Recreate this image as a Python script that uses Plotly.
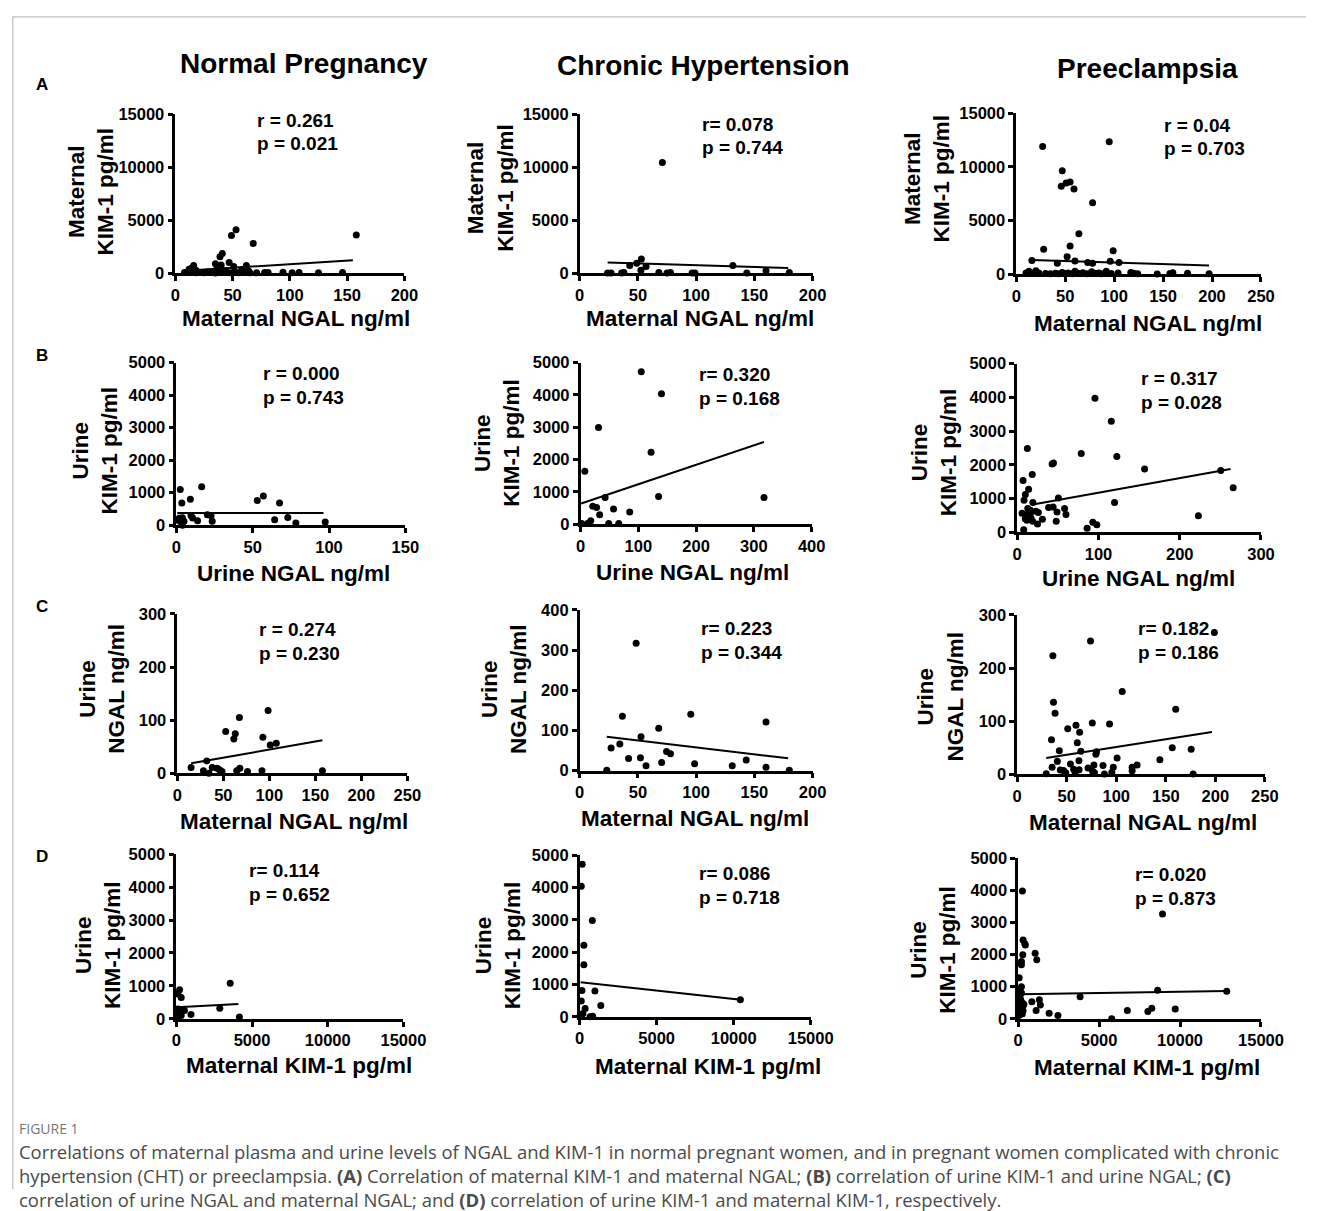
import plotly.graph_objects as go

W, H = 1329, 1211

# ---------------- data ----------------
# Row A: maternal NGAL (x) vs maternal KIM-1 (y)
a1_x = [53, 49, 68, 158, 41, 39, 47, 35, 40, 16, 14, 62, 51, 12, 18, 36, 44, 58, 64,
        8, 12, 15, 18, 22, 25, 28, 31, 35, 38, 42, 48, 52, 55, 62, 65, 71, 78, 81, 94, 102, 108, 125, 146]
a1_y = [4100, 3550, 2800, 3600, 1850, 1550, 1000, 870, 770, 700, 460, 710, 620, 350, 250, 300, 200, 300, 180,
        50, 80, 120, 30, 60, 20, 90, 40, 10, 120, 50, 30, 100, 20, 60, 30, 20, 40, 60, 80, 30, 50, 20, 60]
a1_fit_x = [8, 155]
a1_fit_y = [215, 1205]

a2_x = [71, 53, 49, 43, 57, 52.6, 131.5, 24, 27, 36, 38, 68, 75, 78, 96.5, 99, 143.5, 160, 180]
a2_y = [10450, 1330, 930, 710, 620, 250, 710, 0, 0, 0, 60, 60, 0, 60, 0, 0, 0, 220, 60]
a2_fit_x = [24, 179]
a2_fit_y = [990, 464]

a3_x = [27, 95, 47, 46, 51, 55, 59, 78, 64, 55, 28, 99, 52, 42, 16, 60, 73, 78, 96, 105,
        10, 13, 16, 20, 23, 30, 35, 40, 43, 47, 50, 53, 57, 60, 63, 68, 72, 77, 80, 84, 87, 92, 97,
        104, 117, 120, 124, 144, 157, 160, 175, 197]
a3_y = [11900, 12350, 9650, 8200, 8500, 8600, 7950, 6650, 3750, 2620, 2320, 2170, 1620, 1000, 1250, 1220, 1070, 1000, 1190, 1070,
        100, 250, 50, 300, 100, 50, 20, 80, 30, 150, 40, 100, 20, 250, 60, 120, 30, 200, 60, 100, 20, 250, 50,
        100, 150, 60, 30, 0, 50, 120, 60, 20]
a3_fit_x = [16, 197]
a3_fit_y = [1314, 794]

# Row B: urine NGAL (x) vs urine KIM-1 (y)
b1_x = [2.6, 16.6, 9.2, 3.6, 53, 57, 67.6, 9.6, 10.7, 13.9, 20.3, 22.8, 23.5, 1, 2, 3, 4, 5, 4, 64.4, 73, 78.3, 97.5]
b1_y = [1100, 1180, 800, 680, 760, 900, 680, 300, 220, 140, 320, 290, 120, 150, 220, 100, 230, 120, 0, 170, 240, 70, 100]
b1_fit_x = [0.6, 96.4]
b1_fit_y = [375, 375]

b2_x = [105, 140, 31, 122, 7.3, 42.4, 135, 317.5, 21, 27.7, 57, 85, 33, 1.7, 12, 17.5, 48.6, 66]
b2_y = [4720, 4040, 2990, 2225, 1640, 830, 860, 830, 560, 520, 470, 380, 290, 20, 20, 110, 20, 20]
b2_fit_x = [1, 317.5]
b2_fit_y = [643, 2550]

b3_x = [95.7, 115.8, 12.5, 78.8, 122.6, 44.6, 43, 156.8, 250.5, 265.8, 7.2, 18.5, 14, 10, 8.4, 19.3, 50.7,
        119.8, 38.6, 44.2, 58.3, 13, 17, 23, 26, 6, 11.3, 15, 17, 19, 25, 31, 48, 49, 60, 223, 93, 98, 86,
        8, 12, 14, 10, 16]
b3_y = [3975, 3290, 2480, 2335, 2245, 2050, 2020, 1875, 1826, 1318, 1533, 1709, 1270, 1113, 947, 879, 1016,
        879, 732, 742, 703, 700, 600, 620, 580, 557, 508, 470, 420, 320, 240, 380, 320, 600, 520, 488, 293, 215, 117,
        68, 350, 550, 400, 650]
b3_fit_x = [19.3, 262.6]
b3_fit_y = [820, 1875]

# Row C: maternal NGAL (x) vs urine NGAL (y)
c1_x = [98.7, 67.5, 52.6, 63, 61.4, 93, 101, 107.6, 32, 15, 28.4, 34.4, 38, 43.3, 45.8, 48.6, 64.6, 68, 76.3, 92, 157.7]
c1_y = [118.5, 105, 79, 74.7, 64.8, 67.9, 53.7, 56.8, 23.5, 11, 5, 0.6, 11, 10, 6.8, 3.7, 5, 10, 3.7, 5, 5]
c1_fit_x = [15, 157.7]
c1_fit_y = [19, 62.3]

c2_x = [48.5, 36.7, 95.4, 160, 67.9, 52.7, 27, 34.5, 74.6, 78, 42, 52.2, 57, 70.4, 98.7, 131, 143, 160, 23.3, 180]
c2_y = [317, 135, 140, 121, 105, 84, 56, 66, 47.5, 42, 30, 32, 12, 19.7, 17, 12, 26, 8, 0.8, 0.8]
c2_fit_x = [23.3, 179]
c2_fit_y = [84.4, 30.3]

c3_x = [74, 199, 36, 106, 160, 36.6, 38.2, 59.3, 75.8, 93.2, 51, 63, 34.6, 60.6, 42.5, 64.2, 80, 79.4, 156.5,
        175.6, 100.8, 144, 40.5, 53.7, 35.2, 62.3, 77.4, 86.6, 97, 116, 121, 29.3, 43.5, 46.8, 49, 57, 58.5,
        62.5, 71.5, 76, 78, 88, 95.5, 116, 177.6]
c3_y = [250.7, 267, 223, 156, 122.6, 135.5, 115, 92.4, 96.7, 94.9, 86, 79.5, 65.3, 59.8, 44.4, 43.7, 42.5, 38, 50,
        47.4, 30.8, 27.7, 24.6, 19.7, 13.6, 25.9, 17.9, 16.6, 13.6, 13.6, 17.9, 1.2, 8.6, 7.4, 3, 10, 4,
        9, 12, 6, 3, 1, 4, 7, 1]
c3_fit_x = [29.3, 196.6]
c3_fit_y = [30.8, 80]

# Row D: maternal KIM-1 (x) vs urine KIM-1 (y)
d1_x = [3560, 216, 108, 324, 2870, 970, 540, 4165, 108, 108, 216, 324, 432, 60]
d1_y = [1080, 880, 750, 650, 320, 130, 250, 50, 300, 200, 150, 100, 250, 50]
d1_fit_x = [65, 4100]
d1_fit_y = [350, 450]

d2_x = [169, 106, 824, 275, 275, 148, 993, 10438, 106, 1373, 359, 106, 211, 676, 845, 20]
d2_y = [4720, 4040, 2980, 2215, 1613, 816, 795, 530, 490, 347, 255, 30, 100, 0, 20, 0]
d2_fit_x = [63, 10459]
d2_fit_y = [1071, 530]

d3_x = [262, 8918, 302, 403, 443, 1047, 1147, 282, 200, 200, 60, 200, 100, 8616, 12885, 3825, 845, 1308, 1369,
        1107, 1912, 2456, 5777, 6744, 8012, 8253, 9702, 100, 150, 250, 300, 50, 100, 200, 300, 150, 50, 250,
        100, 350, 200]
d3_y = [3980, 3265, 2450, 2346, 2295, 2040, 1836, 1990, 1780, 1680, 1275, 1000, 900, 887, 857, 683, 530, 592, 428,
        255, 173, 102, 0, 255, 224, 326, 306, 700, 600, 500, 400, 550, 450, 350, 250, 200, 100, 150,
        300, 450, 800]
d3_fit_x = [100, 12885]
d3_fit_y = [765, 867]

stats_r = ["r = 0.261", "r= 0.078", "r = 0.04",
           "r = 0.000", "r= 0.320", "r = 0.317",
           "r = 0.274", "r= 0.223", "r= 0.182",
           "r= 0.114", "r= 0.086", "r= 0.020"]
stats_p = ["p = 0.021", "p = 0.744", "p = 0.703",
           "p = 0.743", "p = 0.168", "p = 0.028",
           "p = 0.230", "p = 0.344", "p = 0.186",
           "p = 0.652", "p = 0.718", "p = 0.873"]

col_titles = ["Normal Pregnancy", "Chronic Hypertension", "Preeclampsia"]
row_letters = ["A", "B", "C", "D"]
x_titles = ["Maternal NGAL ng/ml", "Urine NGAL ng/ml", "Maternal NGAL ng/ml", "Maternal KIM-1 pg/ml"]
y_titles = ["Maternal<br>KIM-1 pg/ml", "Urine<br>KIM-1 pg/ml", "Urine<br>NGAL ng/ml", "Urine<br>KIM-1 pg/ml"]

caption_lines = [
    "Correlations of maternal plasma and urine levels of NGAL and KIM-1 in normal pregnant women, and in pregnant women complicated with chronic",
    "hypertension (CHT) or preeclampsia. <b>(A)</b> Correlation of maternal KIM-1 and maternal NGAL; <b>(B)</b> correlation of urine KIM-1 and urine NGAL; <b>(C)</b>",
    "correlation of urine NGAL and maternal NGAL; and <b>(D)</b> correlation of urine KIM-1 and maternal KIM-1, respectively.",
]

# ---------------- layout helpers ----------------
FONT = "Liberation Sans, Arial, sans-serif"


def fx(p):
    return p / W


def fy(p):
    return 1 - p / H


# per panel: data, pixel box (x0, x1, ytop, ybottom), axis ranges/dticks,
# y-title centre, x-title centre, stats left/top
panels = [
    (a1_x, a1_y, a1_fit_x, a1_fit_y, (174, 408, 107, 268), (200, 50), (15000, 5000), (88, 185), (297, 314), (255, 113)),
    (a2_x, a2_y, a2_fit_x, a2_fit_y, (587, 825, 107, 268), (200, 50), (15000, 5000), (496, 182), (710, 314), (710, 117)),
    (a3_x, a3_y, a3_fit_x, a3_fit_y, (1033, 1283, 106, 269), (250, 50), (15000, 5000), (942, 172), (1168, 319), (1182, 118)),
    (b1_x, b1_y, b1_fit_x, b1_fit_y, (175, 409, 359, 524), (150, 50), (5000, 1000), (92, 448), (295, 573), (261, 370)),
    (b2_x, b2_y, b2_fit_x, b2_fit_y, (588, 824, 359, 523), (400, 100), (5000, 1000), (503, 440), (702, 572), (707, 371)),
    (b3_x, b3_y, b3_fit_x, b3_fit_y, (1034, 1283, 360, 531), (300, 100), (5000, 1000), (949, 450), (1158, 578), (1158, 375)),
    (c1_x, c1_y, c1_fit_x, c1_fit_y, (176, 411, 614, 776), (250, 50), (300, 100), (99, 690), (295, 825), (257, 630)),
    (c2_x, c2_y, c2_fit_x, c2_fit_y, (587, 825, 610, 773), (200, 50), (400, 100), (509, 690), (705, 822), (709, 629)),
    (c3_x, c3_y, c3_fit_x, c3_fit_y, (1034, 1287, 615, 777), (250, 50), (300, 100), (955, 698), (1163, 826), (1155, 629)),
    (d1_x, d1_y, d1_fit_x, d1_fit_y, (175, 407, 858, 1025), (15000, 5000), (5000, 1000), (95, 950), (300, 1072), (247, 875)),
    (d2_x, d2_y, d2_fit_x, d2_fit_y, (587, 823, 859, 1023), (15000, 5000), (5000, 1000), (503, 950), (718, 1073), (707, 878)),
    (d3_x, d3_y, d3_fit_x, d3_fit_y, (1035, 1283, 862, 1025), (15000, 5000), (5000, 1000), (948, 955), (1167, 1074), (1152, 879)),
]

fig = go.Figure()
annotations = []
layout_axes = {}

tickfont = dict(family=FONT, size=16.5, color="black", weight="bold")
titlefont = dict(family=FONT, size=22.5, color="black", weight="bold")
statfont = dict(family=FONT, size=19, color="black", weight="bold")

for i, (xs, ys, fxs, fys, box, xrng, yrng, ytc, xtc, stc) in enumerate(panels):
    n = i + 1
    xa = "x" if n == 1 else f"x{n}"
    ya = "y" if n == 1 else f"y{n}"
    fig.add_trace(go.Scatter(x=xs, y=ys, mode="markers", xaxis=xa, yaxis=ya,
                             marker=dict(color="black", size=7), cliponaxis=False,
                             showlegend=False, hoverinfo="x+y"))
    fig.add_trace(go.Scatter(x=fxs, y=fys, mode="lines", xaxis=xa, yaxis=ya,
                             line=dict(color="black", width=2), cliponaxis=False,
                             showlegend=False, hoverinfo="skip"))
    x0, x1, yt, yb = box
    axis_common = dict(showline=True, linecolor="black", linewidth=2.5, showgrid=False,
                       zeroline=False, ticks="outside", ticklen=5, tickwidth=2.5, tickcolor="black",
                       tickfont=tickfont, tickformat="d")
    layout_axes["xaxis" if n == 1 else f"xaxis{n}"] = dict(
        domain=[fx(x0), fx(x1)], anchor=ya, range=[0, xrng[0]], dtick=xrng[1], tick0=0, **axis_common)
    layout_axes["yaxis" if n == 1 else f"yaxis{n}"] = dict(
        domain=[fy(yb), fy(yt)], anchor=xa, range=[0, yrng[0]], dtick=yrng[1], tick0=0, **axis_common)

    row = i // 3
    annotations.append(dict(x=fx(ytc[0]), y=fy(ytc[1]), xref="paper", yref="paper", text=y_titles[row],
                            textangle=-90, showarrow=False, font=titlefont, xanchor="center", yanchor="middle"))
    annotations.append(dict(x=fx(xtc[0]), y=fy(xtc[1]), xref="paper", yref="paper", text=x_titles[row],
                            showarrow=False, font=titlefont, xanchor="center", yanchor="middle"))
    annotations.append(dict(x=fx(stc[0]), y=fy(stc[1]), xref="paper", yref="paper", text=stats_r[i],
                            showarrow=False, font=statfont, xanchor="left", yanchor="middle"))
    annotations.append(dict(x=fx(stc[0]), y=fy(stc[1] + 24), xref="paper", yref="paper", text=stats_p[i],
                            showarrow=False, font=statfont, xanchor="left", yanchor="middle"))

for t, (cx, cy) in zip(col_titles, [(305, 55), (713, 57), (1167, 60)]):
    annotations.append(dict(x=fx(cx), y=fy(cy), xref="paper", yref="paper", text=t, showarrow=False,
                            font=dict(family=FONT, size=28, color="black", weight="bold"),
                            xanchor="center", yanchor="middle"))
for t, cy in zip(row_letters, [77, 352, 607, 860]):
    annotations.append(dict(x=fx(38), y=fy(cy), xref="paper", yref="paper", text=t, showarrow=False,
                            font=dict(family=FONT, size=17, color="black", weight="bold"),
                            xanchor="center", yanchor="middle"))

annotations.append(dict(x=fx(12), y=fy(1136), xref="paper", yref="paper", text="FIGURE 1", showarrow=False,
                        font=dict(family="Open Sans, Noto Sans, sans-serif", size=14, color="#777777"),
                        xanchor="left", yanchor="middle"))
annotations.append(dict(x=fx(12), y=fy(1184), xref="paper", yref="paper", text="<br>".join(caption_lines),
                        showarrow=False, align="left",
                        font=dict(family="Open Sans, Noto Sans, sans-serif", size=18.45, color="#4a4a4a"),
                        xanchor="left", yanchor="middle"))

shapes = [
    dict(type="line", xref="paper", yref="paper", x0=fx(8), x1=1, y0=fy(8), y1=fy(8),
         line=dict(color="#b0b0b0", width=1)),
    dict(type="line", xref="paper", yref="paper", x0=fx(8), x1=fx(8), y0=fy(8), y1=fy(1198),
         line=dict(color="#b0b0b0", width=1)),
]

fig.update_layout(width=W, height=H, margin=dict(l=0, r=0, t=0, b=0),
                  paper_bgcolor="white", plot_bgcolor="white",
                  annotations=annotations, shapes=shapes, **layout_axes)

fig.write_html("out.html", config={"displayModeBar": False},
               post_script="document.body.style.margin='0';document.body.style.overflow='hidden';")
